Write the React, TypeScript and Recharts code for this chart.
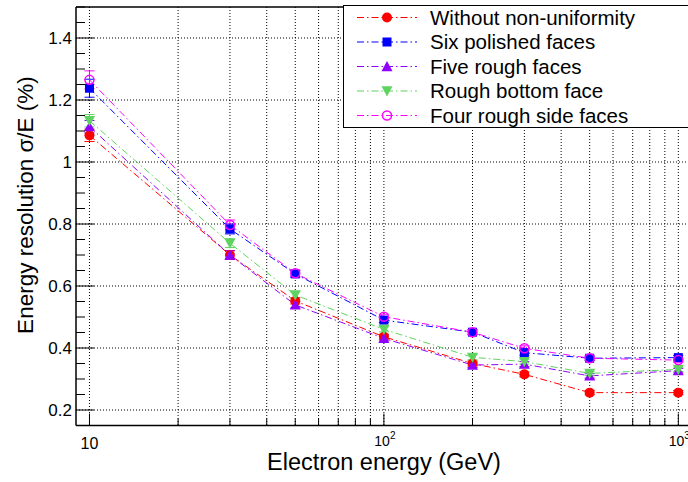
import React from 'react';
import { LineChart, Line, XAxis, YAxis, CartesianGrid, ErrorBar, Legend, ReferenceLine, Label } from 'recharts';

const energies = [10, 30, 50, 100, 200, 300, 500, 1000];
const withoutNonUniformity = [1.086, 0.700, 0.552, 0.436, 0.350, 0.315, 0.256, 0.256];
const sixPolishedFaces = [1.238, 0.784, 0.639, 0.490, 0.451, 0.385, 0.367, 0.369];
const fiveRoughFaces = [1.114, 0.700, 0.539, 0.431, 0.345, 0.348, 0.310, 0.327];
const roughBottomFace = [1.133, 0.738, 0.571, 0.460, 0.370, 0.356, 0.318, 0.331];
const fourRoughSideFaces = [1.265, 0.797, 0.641, 0.501, 0.451, 0.399, 0.367, 0.361];

const errWithout = [0.02, 0.014, 0.01, 0.008, 0.008, 0.008, 0.007, 0.007];
const errSix = [0.029, 0.016, 0.01, 0.008, 0.008, 0.008, 0.007, 0.007];
const errFive = [0.02, 0.014, 0.01, 0.008, 0.008, 0.008, 0.007, 0.007];
const errBottom = [0.02, 0.014, 0.01, 0.008, 0.008, 0.008, 0.007, 0.007];
const errFour = [0.029, 0.016, 0.01, 0.008, 0.008, 0.008, 0.007, 0.007];

const seriesNames = [
  'Without non-uniformity',
  'Six polished faces',
  'Five rough faces',
  'Rough bottom face',
  'Four rough side faces',
];
const seriesColors = ['#ff0000', '#0000ff', '#8f00ff', '#5fd35f', '#ff00ff'];
const seriesShapes = ['circle', 'square', 'triUp', 'triDown', 'openCircle'];
const seriesValues = [withoutNonUniformity, sixPolishedFaces, fiveRoughFaces, roughBottomFace, fourRoughSideFaces];
const seriesErrors = [errWithout, errSix, errFive, errBottom, errFour];

const xTicks = [10, 20, 30, 40, 50, 60, 70, 80, 90, 100, 200, 300, 400, 500, 600, 700, 800, 900, 1000];
const xMajorTicks = [10, 100, 1000];
const xMajorBase = ['10', '10', '10'];
const xMajorExp = ['', '2', '3'];

const yTicks = [0.15, 0.2, 0.25, 0.3, 0.35, 0.4, 0.45, 0.5, 0.55, 0.6, 0.65, 0.7, 0.75, 0.8, 0.85, 0.9, 0.95, 1, 1.05, 1.1, 1.15, 1.2, 1.25, 1.3, 1.35, 1.4, 1.45, 1.5];
const yMajorTicks = [0.2, 0.4, 0.6, 0.8, 1, 1.2, 1.4];
const yMajorLabels = ['0.2', '0.4', '0.6', '0.8', '1', '1.2', '1.4'];

const FONT = '"Liberation Sans", Arial, Helvetica, sans-serif';
const DASH = '7 3 1.5 3';

const data = energies.map((e, i) => {
  const row: Record<string, number> = { energy: e };
  seriesValues.forEach((vals, s) => {
    row['s' + s] = vals[i];
    row['e' + s] = seriesErrors[s][i];
  });
  return row;
});

function Marker({ shape, color, cx, cy, scale = 1 }: { shape: string; color: string; cx: number; cy: number; scale?: number }) {
  if (cx == null || cy == null) return null;
  switch (shape) {
    case 'circle':
      return <circle cx={cx} cy={cy} r={5 * scale} fill={color} />;
    case 'square':
      return <rect x={cx - 4.5 * scale} y={cy - 4.5 * scale} width={9 * scale} height={9 * scale} fill={color} />;
    case 'triUp': {
      const h = 5.5 * scale;
      return <polygon points={`${cx},${cy - h} ${cx + h},${cy + h * 0.85} ${cx - h},${cy + h * 0.85}`} fill={color} />;
    }
    case 'triDown': {
      const h = 5.5 * scale;
      return <polygon points={`${cx},${cy + h} ${cx + h},${cy - h * 0.85} ${cx - h},${cy - h * 0.85}`} fill={color} />;
    }
    case 'openCircle':
    default:
      return <circle cx={cx} cy={cy} r={4.5 * scale} fill="none" stroke={color} strokeWidth={1.5} />;
  }
}

const XTick = (props: any) => {
  const { x, y, payload } = props;
  const v = payload.value;
  const mi = xMajorTicks.indexOf(v);
  const major = mi >= 0;
  return (
    <g>
      <line x1={x} x2={x} y1={y} y2={y - (major ? 12 : 7)} stroke="#000" strokeWidth={1} />
      {major && mi === 0 && (
        <text x={x} y={y + 23} textAnchor="middle" fontSize={16} fontFamily={FONT} fill="#000">
          {xMajorBase[mi]}
        </text>
      )}
      {major && mi > 0 && (
        <text x={x + 1} y={y + 20.5} textAnchor="middle" fontSize={14} fontFamily={FONT} fill="#000">
          {xMajorBase[mi]}
          <tspan fontSize={10} dy={-7}>{xMajorExp[mi]}</tspan>
        </text>
      )}
    </g>
  );
};

const YTick = (props: any) => {
  const { x, y, payload } = props;
  const v = payload.value;
  const mi = yMajorTicks.findIndex((m) => Math.abs(m - v) < 1e-6);
  const major = mi >= 0;
  return (
    <g>
      <line x1={x} x2={x + (major ? 18 : 9)} y1={y} y2={y} stroke="#000" strokeWidth={1} />
      {major && (
        <text x={x - 4} y={y + 6} textAnchor="end" fontSize={17} fontFamily={FONT} fill="#000">
          {yMajorLabels[mi]}
        </text>
      )}
    </g>
  );
};

const LegendBox = () => (
  <svg width={360} height={124} style={{ display: 'block' }}>
    <rect x={0.5} y={0.5} width={400} height={122} fill="#fff" stroke="#000" strokeWidth={1} />
    {seriesNames.map((name, i) => {
      const cy = 12.5 + i * 24.5;
      return (
        <g key={name}>
          <line x1={14} x2={74} y1={cy} y2={cy} stroke={seriesColors[i]} strokeWidth={1} strokeDasharray={DASH} />
          <Marker shape={seriesShapes[i]} color={seriesColors[i]} cx={44} cy={cy} />
          <text x={87} y={cy + 7} fontSize={20.5} fontFamily={FONT} fill="#000">
            {name}
          </text>
        </g>
      );
    })}
  </svg>
);

export default function App() {
  return (
    <div style={{ position: 'fixed', left: 0, top: 0, width: 688, height: 482, overflow: 'hidden', background: '#fff' }}>
      <LineChart width={700} height={482} data={data} margin={{ top: 7, right: 9.5, bottom: 0, left: 0 }}>
        <CartesianGrid
          stroke="#000"
          strokeDasharray="1 2"
          strokeWidth={1}
          horizontalValues={yMajorTicks}
          verticalValues={xTicks}
        />
        <XAxis
          dataKey="energy"
          type="number"
          scale="log"
          domain={[9, 1100]}
          allowDataOverflow
          ticks={xTicks}
          interval={0}
          tickSize={0}
          tickMargin={0}
          tick={<XTick />}
          height={56.5}
          axisLine={{ stroke: '#000', strokeWidth: 1.5 }}
          tickLine={false}
        >
          <Label
            content={() => (
              <text x={384} y={470} textAnchor="middle" fontSize={23.5} fontFamily={FONT} fill="#000">
                Electron energy (GeV)
              </text>
            )}
          />
        </XAxis>
        <YAxis
          type="number"
          domain={[0.15, 1.5]}
          allowDataOverflow
          ticks={yTicks}
          interval={0}
          tickSize={0}
          tickMargin={0}
          tick={<YTick />}
          width={76}
          axisLine={{ stroke: '#000', strokeWidth: 1.5 }}
          tickLine={false}
        >
          <Label
            content={() => (
              <text
                x={33}
                y={205}
                transform="rotate(-90 33 205)"
                textAnchor="middle"
                fontSize={22.5}
                fontFamily={FONT}
                fill="#000"
              >
                Energy resolution σ/E (%)
              </text>
            )}
          />
        </YAxis>
        <ReferenceLine y={1.5} stroke="#000" strokeWidth={1.5} ifOverflow="visible" />
        {seriesNames.map((name, s) => (
          <Line
            key={name}
            name={name}
            dataKey={'s' + s}
            stroke={seriesColors[s]}
            strokeWidth={1}
            strokeDasharray={DASH}
            isAnimationActive={false}
            dot={(p: any) => <Marker key={'m' + s + '-' + p.index} shape={seriesShapes[s]} color={seriesColors[s]} cx={p.cx} cy={p.cy} />}
            activeDot={false}
          >
            <ErrorBar dataKey={'e' + s} width={5} strokeWidth={1} stroke={seriesColors[s]} direction="y" />
          </Line>
        ))}
        <Legend
          layout="vertical"
          align="center"
          verticalAlign="middle"
          wrapperStyle={{ left: 343, top: 5, width: 360, height: 124, position: 'absolute' }}
          content={() => <LegendBox />}
        />
      </LineChart>
    </div>
  );
}
